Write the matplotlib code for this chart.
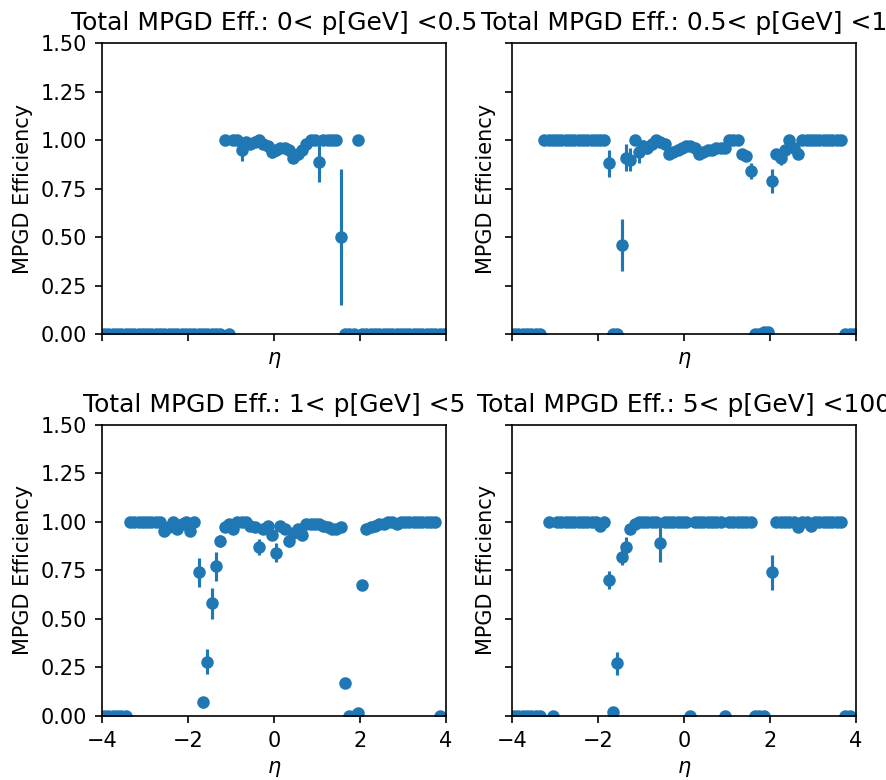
import numpy as np
import matplotlib
matplotlib.use('Agg')
import matplotlib.pyplot as plt

nan = np.nan

# eta bin centres, width 0.1 from -4 to 4
eta = np.arange(-3.95, 4.0, 0.1)

titles = ['Total MPGD Eff.: 0< p[GeV] <0.5', 'Total MPGD Eff.: 0.5< p[GeV] <1',
          'Total MPGD Eff.: 1< p[GeV] <5', 'Total MPGD Eff.: 5< p[GeV] <100']

eff_p1 = [0, 0, 0, 0, 0, 0, 0, 0, 0, 0,
          0, 0, 0, 0, 0, 0, 0, 0, 0, 0,
          0, 0, 0, 0, 0, 0, 0, 0, 1.0, 0,
          1.0, 1.0, 0.95, 0.99, 0.98, 0.99, 1.0, 0.98, 0.97, 0.94,
          0.95, 0.96, 0.96, 0.95, 0.91, 0.93, 0.95, 0.98, 1.0, 1.0,
          0.885, 1.0, 1.0, 1.0, 1.0, 0.5, 0, 0, 0, 1.0,
          0, 0, 0, 0, 0, 0, 0, 0, 0, 0,
          0, 0, 0, 0, 0, 0, 0, 0, 0, 0]
err_p1 = [0] * 30 + \
         [0, 0, 0.055, 0.01, 0.02, 0.01, 0, 0.02, 0.02, 0.03,
          0.03, 0.02, 0.02, 0.03, 0.03, 0.03, 0.02, 0.02, 0, 0,
          0.10, 0, 0, 0, 0, 0.35, 0, 0, 0, 0] + [0] * 20

eff_p2 = [0, 0, 0, 0, 0, 0, 0, 1, 1, 1,
          1, 1, 1, 1, 1, 1, 1, 1, 1, 1,
          1, 1, 0.88, 0, 0, 0.46, 0.91, 0.90, 1.0, 0.94,
          0.97, 0.96, 0.98, 1.0, 0.99, 0.98, 0.93, 0.94, 0.95, 0.96,
          0.97, 0.97, 0.96, 0.93, 0.94, 0.95, 0.95, 0.96, 0.96, 0.96,
          1.0, 1.0, 1.0, 0.93, 0.92, 0.84, 0, 0, 0.01, 0.015,
          0.79, 0.93, 0.91, 0.95, 1.0, 0.96, 0.93, 1, 1, 1,
          1, 1, 1, 1, 1, 1, 1, 0, 0, 0]
err_p2 = [0] * 20 + \
         [0, 0, 0.07, 0, 0, 0.135, 0.07, 0.06, 0, 0.06,
          0.03, 0.03, 0.02, 0, 0.01, 0.02, 0.02, 0.02, 0.02, 0.01,
          0.01, 0.01, 0.01, 0.02, 0.01, 0.01, 0.01, 0.01, 0.01, 0.01,
          0, 0, 0, 0.02, 0.02, 0.04, 0, 0, 0.01, 0.01,
          0.06, 0.02, 0.04, 0.02, 0, 0.02, 0.02, 0, 0, 0] + [0] * 10

eff_p3 = [0, 0, 0, 0, 0, 0, 1, 1, 1, 1,
          1, 1, 1, 1, 0.95, 0.97, 1, 0.96, 0.99, 1,
          0.95, 1, 0.74, 0.07, 0.28, 0.58, 0.77, 0.90, 0.97, 0.99,
          0.96, 1, 1, 1, 0.98, 0.97, 0.87, 0.96, 0.98, 0.93,
          0.84, 0.98, 0.96, 0.90, 0.94, 0.96, 0.93, 0.99, 0.99, 0.99,
          0.99, 0.98, 0.97, 0.96, 0.96, 0.97, 0.17, 0, 0, 0.014,
          0.675, 0.96, 0.97, 0.98, 0.99, 0.99, 1, 1, 0.99, 1,
          1, 1, 1, 1, 1, 1, 1, 1, 0, nan]
err_p3 = [0] * 20 + \
         [0, 0, 0.075, 0.03, 0.065, 0.08, 0.075, 0.03, 0.01, 0.01,
          0.02, 0, 0, 0, 0.01, 0.01, 0.04, 0.02, 0.01, 0.02,
          0.05, 0.01, 0.01, 0.03, 0.02, 0.01, 0.02, 0, 0, 0,
          0, 0.01, 0.01, 0.01, 0.01, 0.01, 0.01, 0, 0, 0,
          0.01, 0.01, 0.01, 0, 0, 0, 0, 0, 0, 0] + [0] * 10

eff_p4 = [0, 0, 0, 0, 0, 0, 0, nan, 1, 0,
          1, 1, 1, 1, 1, 1, 1, 1, 1, 1,
          0.98, 1, 0.70, 0.02, 0.27, 0.82, 0.87, 0.96, 0.99, 1,
          1, 1, 1, 1, 0.89, 1, 1, 1, 1, 1,
          1, 0, 1, 1, 1, 1, 1, 1, 1, 0,
          1, 1, 1, 1, 1, 1, 0, 0, 0, nan,
          0.74, 1, 1, 1, 1, 1, 0.97, 1, 1, 0.98,
          1, 1, 1, 1, 1, 1, 1, 0, 0, nan]
err_p4 = [0] * 20 + \
         [0, 0, 0.045, 0.01, 0.06, 0.045, 0.05, 0.02, 0.01, 0,
          0, 0, 0, 0, 0.1, 0, 0, 0, 0, 0,
          0, 0, 0, 0, 0, 0, 0, 0, 0, 0,
          0, 0, 0, 0, 0, 0, 0, 0, 0, 0,
          0.09, 0, 0, 0, 0, 0, 0, 0, 0, 0] + [0] * 10

effs = [eff_p1, eff_p2, eff_p3, eff_p4]
errs = [err_p1, err_p2, err_p3, err_p4]

fig, axs = plt.subplots(2, 2, sharex=True, sharey=True, figsize=(886 / 150, 780 / 150), dpi=150)
fig.subplots_adjust(left=0.1151, right=0.9661, bottom=0.0821, top=0.9449, wspace=0.192, hspace=0.309)

for ax, title, eff, err in zip(axs.flat, titles, effs, errs):
    ax.errorbar(eta, eff, yerr=err, fmt='o', markersize=5)
    ax.set_title(title)
    ax.set_xlabel(r'$\eta$')
    ax.set_ylabel('MPGD Efficiency')
    ax.set_xlim(-4, 4)
    ax.set_ylim(0, 1.5)

fig.savefig('out.png', dpi=150)
